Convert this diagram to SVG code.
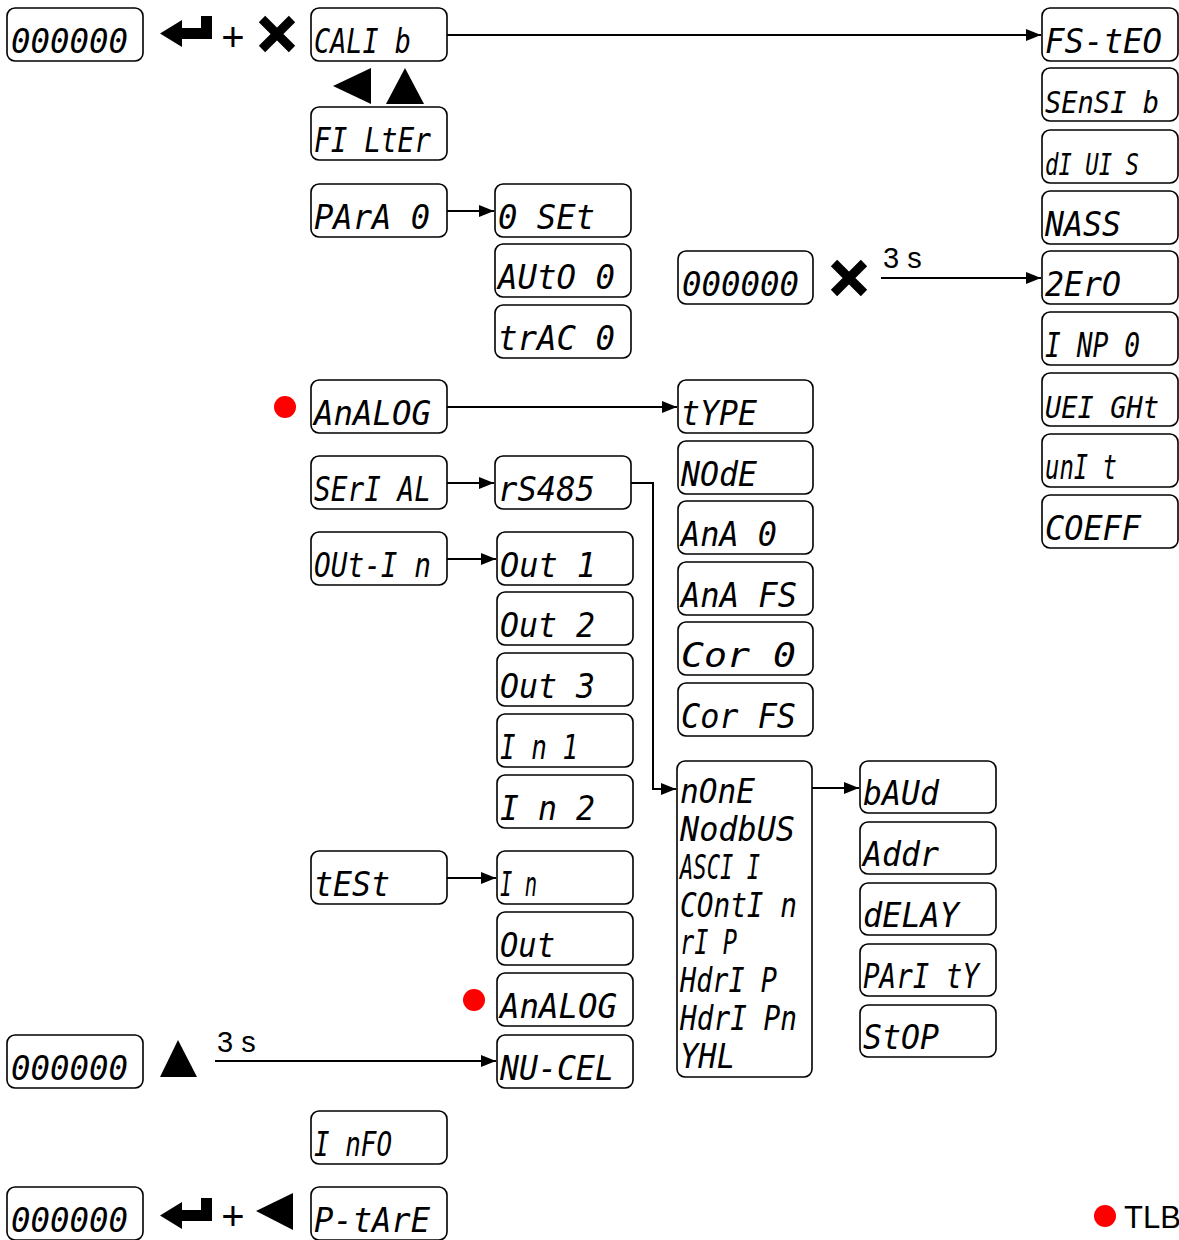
<svg xmlns="http://www.w3.org/2000/svg" width="1179" height="1240" viewBox="0 0 1179 1240">
<style>
.b{fill:#fff;stroke:#000;stroke-width:1.6}
.t{font-family:"DejaVu Sans Mono","Liberation Mono",monospace;font-style:oblique;font-size:34px;fill:#000}
.n{font-size:31px}
.c{stroke:#000;stroke-width:2;fill:none}
.s{font-family:"Liberation Sans",Arial,sans-serif;fill:#000}
.x{stroke:#000;stroke-width:9;stroke-linecap:butt}
</style>
<defs>
<marker id="ah" markerUnits="userSpaceOnUse" markerWidth="16" markerHeight="12" refX="15" refY="6" orient="auto">
<path d="M0,0 L15,6 L0,12 Z" fill="#000"/>
</marker>
</defs>
<rect width="1179" height="1240" fill="#fff"/>

<g id="connectors">
<path class="c" d="M447,35 H1041" marker-end="url(#ah)"/>
<path class="c" d="M447,211 H494" marker-end="url(#ah)"/>
<path class="c" d="M881,278 H1041" marker-end="url(#ah)"/>
<path class="c" d="M447,407 H677" marker-end="url(#ah)"/>
<path class="c" d="M447,483 H494" marker-end="url(#ah)"/>
<path class="c" d="M631,483 H653 V789 H676" marker-end="url(#ah)"/>
<path class="c" d="M447,559 H496" marker-end="url(#ah)"/>
<path class="c" d="M447,878 H496" marker-end="url(#ah)"/>
<path class="c" d="M215,1061 H496" marker-end="url(#ah)"/>
<path class="c" d="M812,788 H859" marker-end="url(#ah)"/>
<text class="s" x="883" y="268" font-size="29">3 s</text>
<text class="s" x="217" y="1052" font-size="29">3 s</text>
</g>

<g id="symbols">
<path d="M160,33.5 L182,20 L182,47 Z M181,28 H212 V39 H181 Z M201,16 H212 V39 H201 Z" fill="#000"/>
<text class="s" x="233" y="51" font-size="40" text-anchor="middle">+</text>
<path class="x" d="M262,19 L292,49 M292,19 L262,49"/>
<path d="M333,86 L371,68 L371,104 Z" fill="#000"/>
<path d="M405,68 L386,104 L424,104 Z" fill="#000"/>
<path class="x" d="M834,263 L864,293 M864,263 L834,293"/>
<path d="M178,1040 L160,1077 L197,1077 Z" fill="#000"/>
<path d="M160,1215.5 L182,1202 L182,1229 Z M181,1210 H212 V1221 H181 Z M201,1198 H212 V1221 H201 Z" fill="#000"/>
<text class="s" x="233" y="1230" font-size="40" text-anchor="middle">+</text>
<path d="M256,1211 L293,1193 L293,1230 Z" fill="#000"/>
<circle cx="285" cy="407" r="11" fill="#f00"/>
<circle cx="474" cy="1000" r="11" fill="#f00"/>
<circle cx="1105" cy="1216" r="11" fill="#f00"/>
<text class="s" x="1124" y="1228" font-size="31">TLB</text>
</g>

<g id="n-home1"><rect class="b" x="7" y="8" width="136" height="53" rx="8"/><text class="t" x="11" y="53" textLength="117" lengthAdjust="spacingAndGlyphs">000000</text></g>
<g id="n-home2"><rect class="b" x="7" y="1035" width="136" height="53" rx="8"/><text class="t" x="11" y="1080" textLength="117" lengthAdjust="spacingAndGlyphs">000000</text></g>
<g id="n-home3"><rect class="b" x="7" y="1187" width="136" height="53" rx="8"/><text class="t" x="11" y="1232" textLength="117" lengthAdjust="spacingAndGlyphs">000000</text></g>
<g id="n-home4"><rect class="b" x="678" y="251" width="135" height="53" rx="8"/><text class="t" x="682" y="296" textLength="117" lengthAdjust="spacingAndGlyphs">000000</text></g>

<g id="n-calib"><rect class="b" x="311" y="8" width="136" height="53" rx="8"/><text class="t" x="314" y="53" textLength="97" lengthAdjust="spacingAndGlyphs">CALI b</text></g>
<g id="n-filter"><rect class="b" x="311" y="107" width="136" height="53" rx="8"/><text class="t" x="314" y="152" textLength="117" lengthAdjust="spacingAndGlyphs">FI LtEr</text></g>
<g id="n-para0"><rect class="b" x="311" y="184" width="136" height="53" rx="8"/><text class="t" x="314" y="229" textLength="116" lengthAdjust="spacingAndGlyphs">PArA 0</text></g>
<g id="n-analog"><rect class="b" x="311" y="380" width="136" height="53" rx="8"/><text class="t" x="314" y="425" textLength="117" lengthAdjust="spacingAndGlyphs">AnALOG</text></g>
<g id="n-serial"><rect class="b" x="311" y="456" width="136" height="53" rx="8"/><text class="t" x="314" y="501" textLength="117" lengthAdjust="spacingAndGlyphs">SErI AL</text></g>
<g id="n-outin"><rect class="b" x="311" y="532" width="136" height="53" rx="8"/><text class="t" x="314" y="577" textLength="117" lengthAdjust="spacingAndGlyphs">OUt-I n</text></g>
<g id="n-test"><rect class="b" x="311" y="851" width="136" height="53" rx="8"/><text class="t" x="314" y="896" textLength="76" lengthAdjust="spacingAndGlyphs">tESt</text></g>
<g id="n-info"><rect class="b" x="311" y="1111" width="136" height="53" rx="8"/><text class="t" x="314" y="1156" textLength="78" lengthAdjust="spacingAndGlyphs">I nFO</text></g>
<g id="n-ptare"><rect class="b" x="311" y="1187" width="136" height="53" rx="8"/><text class="t" x="314" y="1232" textLength="116" lengthAdjust="spacingAndGlyphs">P-tArE</text></g>

<g id="n-0set"><rect class="b" x="495" y="184" width="136" height="53" rx="8"/><text class="t" x="498" y="229" textLength="97" lengthAdjust="spacingAndGlyphs">0 SEt</text></g>
<g id="n-auto0"><rect class="b" x="495" y="244" width="136" height="53" rx="8"/><text class="t" x="498" y="289" textLength="117" lengthAdjust="spacingAndGlyphs">AUtO 0</text></g>
<g id="n-trac0"><rect class="b" x="495" y="305" width="136" height="53" rx="8"/><text class="t" x="498" y="350" textLength="117" lengthAdjust="spacingAndGlyphs">trAC 0</text></g>
<g id="n-rs485"><rect class="b" x="495" y="456" width="136" height="53" rx="8"/><text class="t" x="498" y="501" textLength="97" lengthAdjust="spacingAndGlyphs">rS485</text></g>
<g id="n-out1"><rect class="b" x="497" y="532" width="136" height="53" rx="8"/><text class="t" x="500" y="577" textLength="96" lengthAdjust="spacingAndGlyphs">Out 1</text></g>
<g id="n-out2"><rect class="b" x="497" y="592" width="136" height="53" rx="8"/><text class="t" x="500" y="637" textLength="95" lengthAdjust="spacingAndGlyphs">Out 2</text></g>
<g id="n-out3"><rect class="b" x="497" y="653" width="136" height="53" rx="8"/><text class="t" x="500" y="698" textLength="95" lengthAdjust="spacingAndGlyphs">Out 3</text></g>
<g id="n-in1"><rect class="b" x="497" y="714" width="136" height="53" rx="8"/><text class="t" x="500" y="759" textLength="78" lengthAdjust="spacingAndGlyphs">I n 1</text></g>
<g id="n-in2"><rect class="b" x="497" y="775" width="136" height="53" rx="8"/><text class="t" x="500" y="820" textLength="95" lengthAdjust="spacingAndGlyphs">I n 2</text></g>
<g id="n-tin"><rect class="b" x="497" y="851" width="136" height="53" rx="8"/><text class="t" x="500" y="896" textLength="37" lengthAdjust="spacingAndGlyphs">I n</text></g>
<g id="n-tout"><rect class="b" x="497" y="912" width="136" height="53" rx="8"/><text class="t" x="500" y="957" textLength="55" lengthAdjust="spacingAndGlyphs">Out</text></g>
<g id="n-tanalog"><rect class="b" x="497" y="973" width="136" height="53" rx="8"/><text class="t" x="500" y="1018" textLength="117" lengthAdjust="spacingAndGlyphs">AnALOG</text></g>
<g id="n-nucel"><rect class="b" x="497" y="1035" width="136" height="53" rx="8"/><text class="t" x="500" y="1080" textLength="114" lengthAdjust="spacingAndGlyphs">NU-CEL</text></g>

<g id="n-type"><rect class="b" x="678" y="380" width="135" height="53" rx="8"/><text class="t" x="681" y="425" textLength="76" lengthAdjust="spacingAndGlyphs">tYPE</text></g>
<g id="n-node"><rect class="b" x="678" y="441" width="135" height="53" rx="8"/><text class="t" x="681" y="486" textLength="76" lengthAdjust="spacingAndGlyphs">NOdE</text></g>
<g id="n-ana0"><rect class="b" x="678" y="501" width="135" height="53" rx="8"/><text class="t" x="681" y="546" textLength="96" lengthAdjust="spacingAndGlyphs">AnA 0</text></g>
<g id="n-anafs"><rect class="b" x="678" y="562" width="135" height="53" rx="8"/><text class="t" x="681" y="607" textLength="116" lengthAdjust="spacingAndGlyphs">AnA FS</text></g>
<g id="n-cor0"><rect class="b" x="678" y="622" width="135" height="53" rx="8"/><text class="t" x="681" y="667" textLength="115" lengthAdjust="spacingAndGlyphs">Cor 0</text></g>
<g id="n-corfs"><rect class="b" x="678" y="683" width="135" height="53" rx="8"/><text class="t" x="681" y="728" textLength="115" lengthAdjust="spacingAndGlyphs">Cor FS</text></g>

<g id="n-protocols"><rect class="b" x="677" y="761" width="135" height="316" rx="8"/>
<text class="t" x="680" y="803" textLength="75" lengthAdjust="spacingAndGlyphs">nOnE</text>
<text class="t" x="680" y="841" textLength="115" lengthAdjust="spacingAndGlyphs">NodbUS</text>
<text class="t" x="680" y="879" textLength="80" lengthAdjust="spacingAndGlyphs">ASCI I</text>
<text class="t" x="680" y="917" textLength="117" lengthAdjust="spacingAndGlyphs">COntI n</text>
<text class="t" x="680" y="954" textLength="57" lengthAdjust="spacingAndGlyphs">rI P</text>
<text class="t" x="680" y="992" textLength="97" lengthAdjust="spacingAndGlyphs">HdrI P</text>
<text class="t" x="680" y="1030" textLength="117" lengthAdjust="spacingAndGlyphs">HdrI Pn</text>
<text class="t" x="680" y="1068" textLength="55" lengthAdjust="spacingAndGlyphs">YHL</text>
</g>

<g id="n-baud"><rect class="b" x="860" y="761" width="136" height="52" rx="8"/><text class="t" x="863" y="805" textLength="76" lengthAdjust="spacingAndGlyphs">bAUd</text></g>
<g id="n-addr"><rect class="b" x="860" y="822" width="136" height="52" rx="8"/><text class="t" x="863" y="866" textLength="76" lengthAdjust="spacingAndGlyphs">Addr</text></g>
<g id="n-delay"><rect class="b" x="860" y="883" width="136" height="52" rx="8"/><text class="t" x="863" y="927" textLength="96" lengthAdjust="spacingAndGlyphs">dELAY</text></g>
<g id="n-parity"><rect class="b" x="860" y="944" width="136" height="52" rx="8"/><text class="t" x="863" y="988" textLength="116" lengthAdjust="spacingAndGlyphs">PArI tY</text></g>
<g id="n-stop"><rect class="b" x="860" y="1005" width="136" height="52" rx="8"/><text class="t" x="863" y="1049" textLength="76" lengthAdjust="spacingAndGlyphs">StOP</text></g>

<g id="n-fsteo"><rect class="b" x="1042" y="8" width="136" height="53" rx="8"/><text class="t" x="1045" y="53" textLength="117" lengthAdjust="spacingAndGlyphs">FS-tEO</text></g>
<g id="n-sensib"><rect class="b" x="1042" y="68" width="136" height="53" rx="8"/><text class="t n" x="1045" y="113" textLength="114" lengthAdjust="spacingAndGlyphs">SEnSI b</text></g>
<g id="n-divis"><rect class="b" x="1042" y="130" width="136" height="53" rx="8"/><text class="t n" x="1045" y="175" textLength="94" lengthAdjust="spacingAndGlyphs">dI UI S</text></g>
<g id="n-nass"><rect class="b" x="1042" y="191" width="136" height="53" rx="8"/><text class="t" x="1045" y="236" textLength="76" lengthAdjust="spacingAndGlyphs">NASS</text></g>
<g id="n-zero"><rect class="b" x="1042" y="251" width="136" height="53" rx="8"/><text class="t" x="1045" y="296" textLength="76" lengthAdjust="spacingAndGlyphs">2ErO</text></g>
<g id="n-inp0"><rect class="b" x="1042" y="312" width="136" height="53" rx="8"/><text class="t" x="1045" y="357" textLength="95" lengthAdjust="spacingAndGlyphs">I NP 0</text></g>
<g id="n-weight"><rect class="b" x="1042" y="373" width="136" height="53" rx="8"/><text class="t n" x="1045" y="418" textLength="114" lengthAdjust="spacingAndGlyphs">UEI GHt</text></g>
<g id="n-unit"><rect class="b" x="1042" y="434" width="136" height="53" rx="8"/><text class="t" x="1045" y="479" textLength="72" lengthAdjust="spacingAndGlyphs">unI t</text></g>
<g id="n-coeff"><rect class="b" x="1042" y="495" width="136" height="53" rx="8"/><text class="t" x="1045" y="540" textLength="96" lengthAdjust="spacingAndGlyphs">COEFF</text></g>
</svg>
